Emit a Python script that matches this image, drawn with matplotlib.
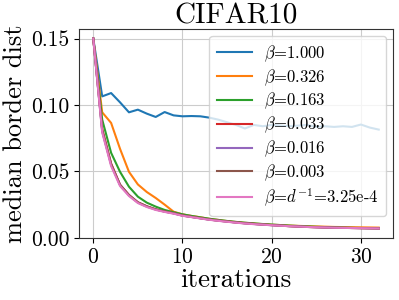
import numpy as np
import matplotlib
matplotlib.use("Agg")
import matplotlib.pyplot as plt

plt.rcParams["font.family"] = "serif"
plt.rcParams["font.serif"] = ["cmr10"]
plt.rcParams["mathtext.fontset"] = "cm"
plt.rcParams["axes.formatter.use_mathtext"] = True

iterations = np.arange(33)

beta_1000 = [0.150, 0.1065, 0.109, 0.102, 0.0945, 0.0965, 0.0935, 0.091, 0.0947, 0.0922,
             0.0915, 0.0917, 0.0915, 0.0905, 0.089, 0.087, 0.085, 0.0823, 0.085, 0.084,
             0.085, 0.0845, 0.084, 0.0845, 0.085, 0.0835, 0.084, 0.0835, 0.084, 0.0835,
             0.0853, 0.083, 0.0815]
beta_0326 = [0.150, 0.0945, 0.0865, 0.067, 0.0497, 0.0402, 0.0345, 0.0300, 0.0250, 0.0197,
             0.0177, 0.0165, 0.0155, 0.0143, 0.0135, 0.0126, 0.0119, 0.0113, 0.0108, 0.0103,
             0.0099, 0.0096, 0.0093, 0.0090, 0.0088, 0.0086, 0.0084, 0.0082, 0.0081, 0.0080,
             0.0079, 0.0078, 0.0077]
beta_0163 = [0.150, 0.089, 0.064, 0.0497, 0.0385, 0.031, 0.0265, 0.0235, 0.021, 0.0193,
             0.0177, 0.0165, 0.0154, 0.0144, 0.0135, 0.0127, 0.0120, 0.0114, 0.0109, 0.0104,
             0.0100, 0.0096, 0.0092, 0.0089, 0.0086, 0.0083, 0.0081, 0.0079, 0.0077, 0.0075,
             0.0074, 0.0073, 0.0072]
beta_0033 = [0.150, 0.082, 0.056, 0.0400, 0.0322, 0.0267, 0.0237, 0.0214, 0.0198, 0.0185,
             0.0168, 0.0158, 0.0148, 0.0138, 0.0130, 0.0123, 0.0116, 0.0110, 0.0105, 0.0100,
             0.0096, 0.0092, 0.0088, 0.0085, 0.0082, 0.0080, 0.0078, 0.0076, 0.0075, 0.0074,
             0.0073, 0.0072, 0.0071]
beta_0016 = [0.150, 0.080, 0.055, 0.0397, 0.0320, 0.0265, 0.0235, 0.0213, 0.0197, 0.0184,
             0.0167, 0.0157, 0.0147, 0.0137, 0.0129, 0.0122, 0.0115, 0.0109, 0.0104, 0.0099,
             0.0095, 0.0091, 0.0088, 0.0085, 0.0082, 0.0080, 0.0078, 0.0076, 0.0075, 0.0074,
             0.0073, 0.0072, 0.0071]
beta_0003 = [0.150, 0.081, 0.0555, 0.0400, 0.0323, 0.0268, 0.0238, 0.0215, 0.0199, 0.0186,
             0.0169, 0.0158, 0.0148, 0.0138, 0.0130, 0.0123, 0.0116, 0.0110, 0.0105, 0.0100,
             0.0096, 0.0092, 0.0088, 0.0085, 0.0082, 0.0080, 0.0078, 0.0076, 0.0075, 0.0074,
             0.0073, 0.0072, 0.0071]
beta_inv_d = [0.150, 0.0795, 0.0540, 0.0390, 0.0315, 0.0262, 0.0232, 0.0210, 0.0195, 0.0182,
              0.0166, 0.0156, 0.0146, 0.0136, 0.0128, 0.0121, 0.0114, 0.0108, 0.0103, 0.0099,
              0.0095, 0.0091, 0.0088, 0.0085, 0.0082, 0.0080, 0.0078, 0.0076, 0.0075, 0.0074,
              0.0073, 0.0072, 0.0071]

series = [beta_1000, beta_0326, beta_0163, beta_0033, beta_0016, beta_0003, beta_inv_d]
labels = [r"$\beta$=1.000", r"$\beta$=0.326", r"$\beta$=0.163", r"$\beta$=0.033",
          r"$\beta$=0.016", r"$\beta$=0.003", r"$\beta$=$d^{-1}$=3.25e-4"]

fig = plt.figure(figsize=(3.99, 3.0), dpi=100)
ax = fig.add_axes([0.198, 0.207, 0.787, 0.696])

for vals, lab in zip(series, labels):
    ax.plot(iterations, vals, linewidth=1.5, label=lab)

ax.grid(True, color="#cccccc", linewidth=0.8)
ax.set_axisbelow(True)
ax.set_xticks([0, 10, 20, 30])
ax.set_yticks([0.0, 0.05, 0.10, 0.15])
ax.yaxis.set_major_formatter(matplotlib.ticker.FormatStrFormatter("%.2f"))
ax.tick_params(labelsize=15.5)
for s in ax.spines.values():
    s.set_color("#333333")

ax.set_title("CIFAR10", fontsize=21, pad=2)
ax.set_xlabel("iterations", fontsize=19.5, labelpad=1)
ax.set_ylabel("median border dist", fontsize=19, labelpad=3)
ax.legend(loc="upper right", fontsize=12, handlelength=2.1, labelspacing=0.2,
          borderpad=0.45, handletextpad=0.75, borderaxespad=0.4)

fig.savefig("out.png", dpi=100)
